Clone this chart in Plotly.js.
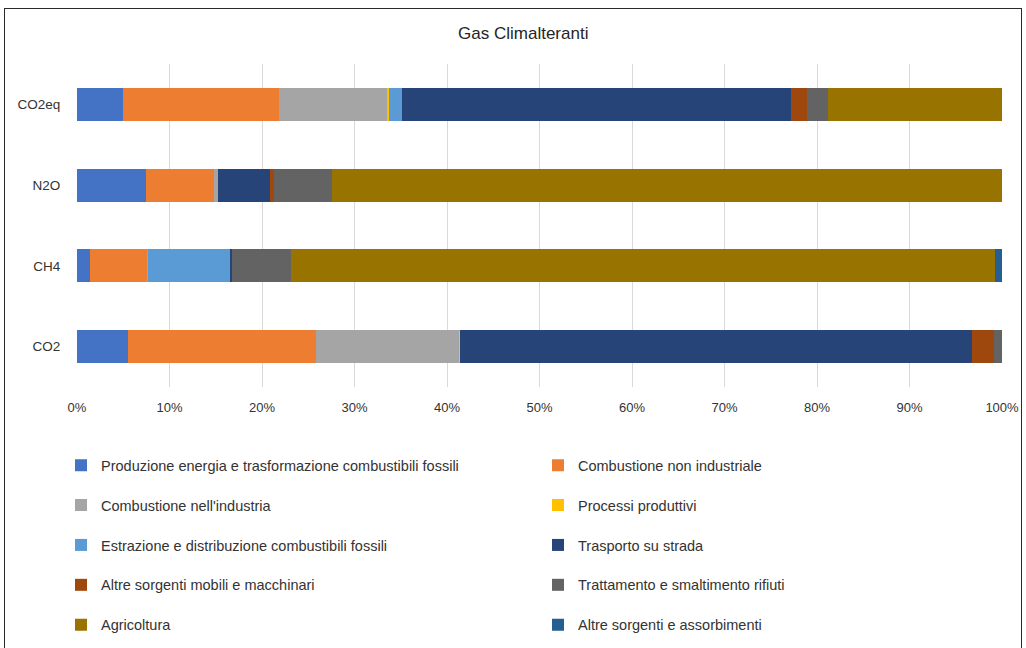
<!DOCTYPE html>
<html><head><meta charset="utf-8">
<script src="https://cdn.plot.ly/plotly-3.0.1.min.js"></script>
<style>
html,body{margin:0;padding:0;background:#fff;}
#chart{position:absolute;left:0;top:0;width:1026px;height:648px;}
#frame{position:absolute;left:4px;top:8px;width:1016px;height:660px;border:1.5px solid #2a2a2a;pointer-events:none;}
</style></head>
<body>
<div id="chart"></div>
<div id="frame"></div>
<script>
const gases = ['CO2', 'CH4', 'N2O', 'CO2eq'];
const sources = [
  'Produzione energia e trasformazione combustibili fossili',
  'Combustione non industriale',
  "Combustione nell'industria",
  'Processi produttivi',
  'Estrazione e distribuzione combustibili fossili',
  'Trasporto su strada',
  'Altre sorgenti mobili e macchinari',
  'Trattamento e smaltimento rifiuti',
  'Agricoltura',
  'Altre sorgenti e assorbimenti'
];
const colors = ['#4472C4','#ED7D31','#A5A5A5','#FFC000','#5B9BD5','#264478','#9E480E','#636363','#997300','#255E91'];
// shares (%) per gas, order: CO2, CH4, N2O, CO2eq
const produzioneEnergia   = [5.5, 1.4, 7.5, 5.0];
const combustioneNonInd   = [20.3, 6.2, 7.3, 16.9];
const combustioneInd      = [15.5, 0.1, 0.4, 11.6];
const processiProduttivi  = [0.1, 0.0, 0.0, 0.2];
const estrazioneDistrib   = [0.0, 8.8, 0.0, 1.5];
const trasportoStrada     = [55.4, 0.3, 5.7, 42.0];
const altreMobili         = [2.3, 0.0, 0.4, 1.8];
const rifiuti             = [0.9, 6.3, 6.3, 2.2];
const agricoltura         = [0.0, 76.1, 72.4, 18.8];
const altreAssorbimenti   = [0.0, 0.8, 0.0, 0.05];
const series = [produzioneEnergia, combustioneNonInd, combustioneInd, processiProduttivi,
  estrazioneDistrib, trasportoStrada, altreMobili, rifiuti, agricoltura, altreAssorbimenti];

const legendIds = ['legend','legend','legend2','legend2','legend3','legend3','legend4','legend4','legend5','legend5'];

const traces = series.map((vals, i) => ({
  type: 'bar', orientation: 'h', name: sources[i], x: vals, y: gases,
  marker: {color: colors[i], line: {width: 0}},
  legend: legendIds[i]
}));

const FONT = 'Liberation Sans, Arial, sans-serif';
const W = 1026, H = 648;
const plotTop = 63.5, plotBottom = 387.5, plotH = plotBottom - plotTop;
function legY(py){ return (plotBottom - py) / plotH; }
function mkLegend(py){
  return {orientation:'h', x:-0.0173, xanchor:'left', y:legY(py), yanchor:'middle',
    entrywidth:432, entrywidthmode:'pixels', font:{family:FONT, size:14.5, color:'#333333'},
    bgcolor:'rgba(0,0,0,0)', traceorder:'normal'};
}

const layout = {
  width:W, height:H,
  margin:{l:77, r:24, t:plotTop, b:H-plotBottom, pad:0, autoexpand:false},
  paper_bgcolor:'#fff', plot_bgcolor:'#fff',
  barmode:'stack', barnorm:'percent', bargap:0.59,
  font:{family:FONT, size:13, color:'#404040'},
  title:{text:'Gas Climalteranti', x:0.510, xanchor:'center', y:1-33/H, yanchor:'middle',
    font:{family:FONT, size:17, color:'#262626'}},
  xaxis:{range:[0,100], dtick:10, tick0:0, ticksuffix:'%', showgrid:true, gridcolor:'#D9D9D9', gridwidth:1,
    zeroline:false, showline:false, ticks:'outside', ticklen:8, tickcolor:'rgba(0,0,0,0)',
    tickfont:{family:FONT, size:13, color:'#333333'}, fixedrange:true},
  yaxis:{categoryorder:'array', categoryarray:gases, range:[-0.5, 3.5], showgrid:false, zeroline:false, showline:false,
    ticks:'outside', ticklen:13, tickcolor:'rgba(0,0,0,0)',
    tickfont:{family:FONT, size:13.5, color:'#333333'}, fixedrange:true},
  showlegend:true,
  legend: mkLegend(466), legend2: mkLegend(506), legend3: mkLegend(546), legend4: mkLegend(586), legend5: mkLegend(626)
};

Plotly.newPlot('chart', traces, layout, {displayModeBar:false, staticPlot:true});
</script>
</body></html>
